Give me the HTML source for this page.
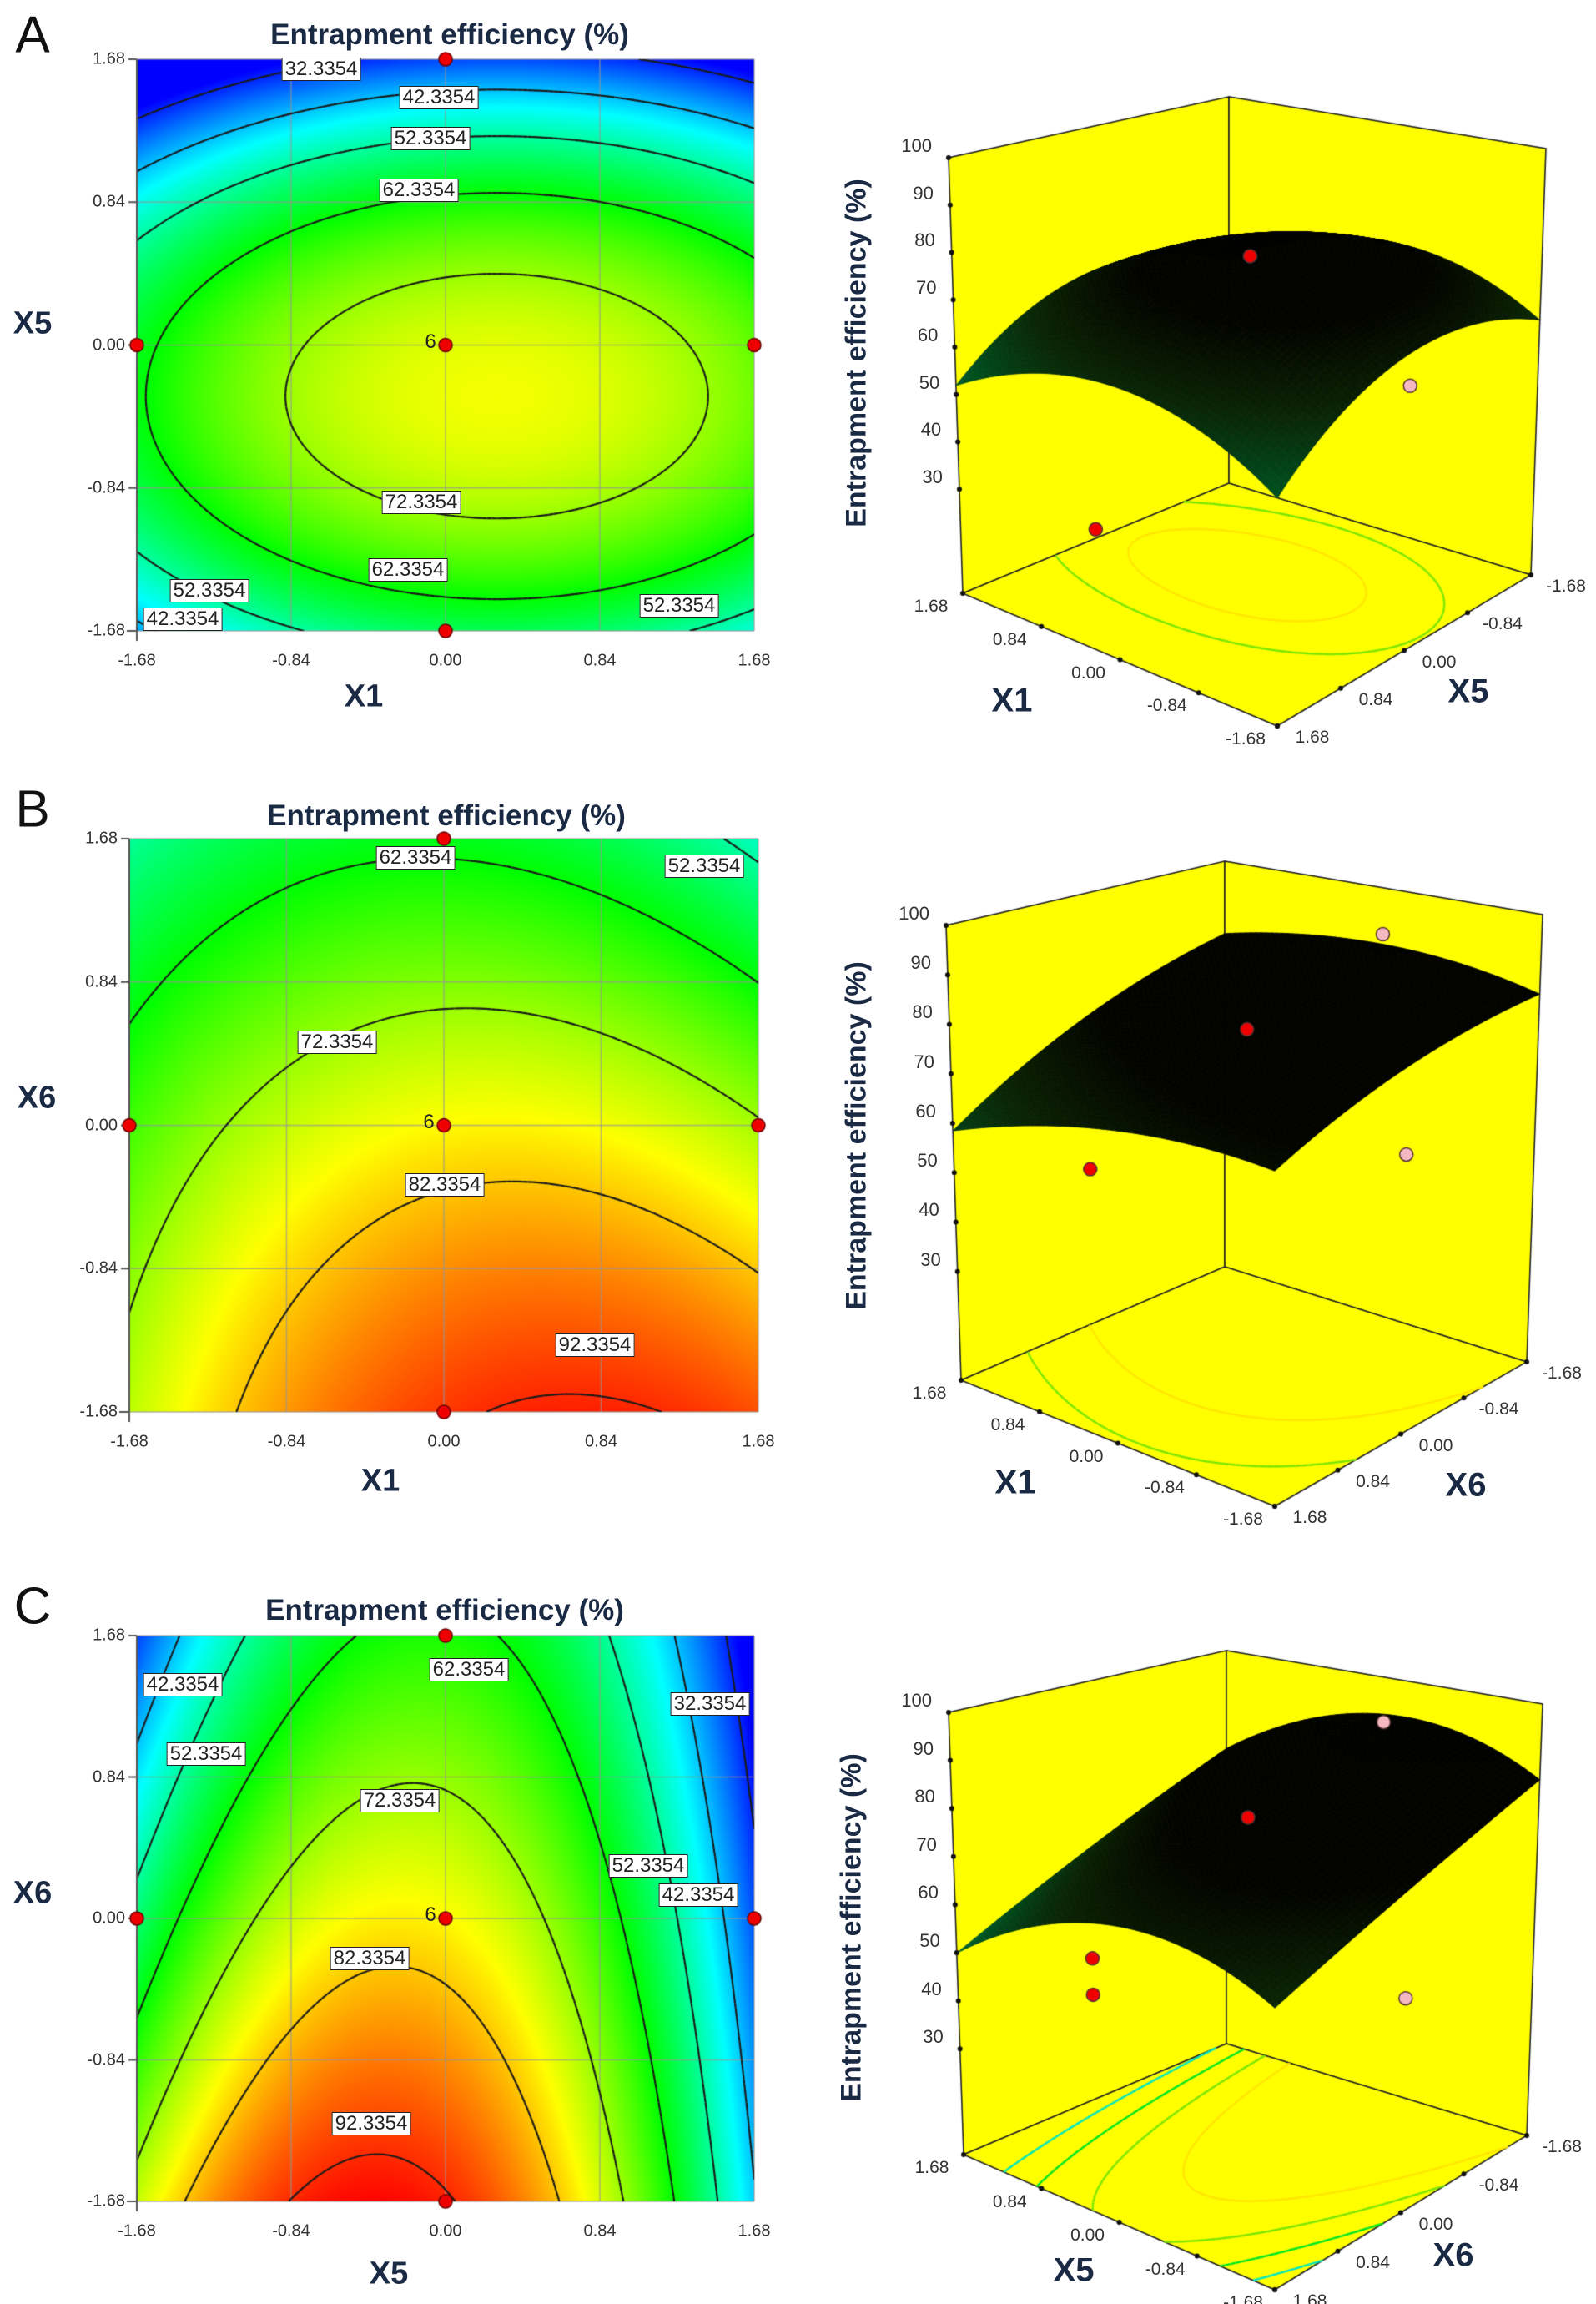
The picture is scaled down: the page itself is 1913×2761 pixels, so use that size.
<!DOCTYPE html>
<html><head><meta charset="utf-8">
<style>
body{margin:0;background:#fff;}
#wrap{position:relative;width:1913px;height:2761px;overflow:hidden;font-family:"Liberation Sans",sans-serif;}
canvas{position:absolute;left:0;top:0;}
.t{position:absolute;white-space:nowrap;color:#333;}
.lab{position:absolute;white-space:nowrap;background:#fff;border:1.5px solid #222;font-size:24px;line-height:26px;padding:0 3px;color:#222;transform:translate(-50%,-50%);}
.ttl{font-weight:bold;color:#1b2a44;}
</style></head>
<body>
<div id="wrap">
<canvas id="cv" width="1913" height="2761"></canvas>
</div>
<script>
// ---- data ----
const panelLetters = ["A","B","C"];
const xFactorNames = ["X1","X1","X5"];
const yFactorNames = ["X5","X6","X6"];
// quadratic model coefficients (contour plots): b0, bx, by, bxx, byy, bxy
const coefA = [76.7, 2.4, -6.6, -4.3, -11, 0];
const coefB = [79, 1.9, -9.1, -3.3, -1, -1.6];
const coefC = [79, -6, -8.6, -12, -0.2, 2.14];
// quadratic model coefficients (3D surfaces)
const coef3A = [80, -0.6, -2.7, -4, -4, 0];
const coef3B = [81.6, -2.1, -5.4, -1.5, -1, -1.24];
const coef3C = [80, -3.1, -7, -4, 0, -0.65];
const contourLevels = [32.3354, 42.3354, 52.3354, 62.3354, 72.3354, 82.3354, 92.3354];
const axisTicks = [-1.68, -0.84, 0.00, 0.84, 1.68];
const tickLabels = ["-1.68", "-0.84", "0.00", "0.84", "1.68"];
const zTicks = [30, 40, 50, 60, 70, 80, 90, 100];
const designX = [0, 0, -1.68, 1.68, 0];
const designY = [1.68, -1.68, 0, 0, 0];
const labelsA = [["32.3354",385,83],["42.3354",526,117],["52.3354",516,166],["62.3354",502,228],["72.3354",505,602],["62.3354",489,683],["52.3354",251,708],["42.3354",219,742],["52.3354",814,726]];
const labelsB = [["62.3354",498,1028],["52.3354",844,1038],["72.3354",404,1249],["82.3354",533,1420],["92.3354",713,1612]];
const labelsC = [["42.3354",219,2019],["52.3354",247,2102],["62.3354",562,2001],["32.3354",851,2042],["72.3354",479,2158],["52.3354",777,2236],["42.3354",837,2271],["82.3354",443,2347],["92.3354",445,2545]];
const floorLevelsA = [62.3354, 72.3354];
const floorLevelsB = [62.3354, 72.3354];
const floorLevelsC = [42.3354, 52.3354, 62.3354, 72.3354];
const pts3A = [[0,0,81,"r"],[-0.3,-1.68,42,"p"],[1.68,0,10,"r"]];
const pts3B = [[0,0,80,"r"],[0,-1.68,90,"p"],[-0.3,-1.68,44,"p"],[1.68,0,41,"r"]];
const pts3C = [[0,0,80,"r"],[0,-1.68,90,"p"],[-0.3,-1.68,30,"p"],[1.68,0,39,"r"],[1.68,0,31,"r"]];

// ---- layout ----
const contourBoxes = [{l:164,t:71,r:904,b:756},{l:155,t:1005,r:909,b:1692},{l:164,t:1960,r:904,b:2638}];
const titlePos = [[539,42],[535,978],[533,1930]];
const letterPos = [[39,42],[39,970],[39,1925]];
const xTitlePos = [[436,835],[456,1775],[466,2725]];
const yTitlePos = [[39,388],[44,1316],[39,2269]];
const boxes3 = [
 {L:[1154,711],K:[1473,579],R:[1835,689],F:[1531,870],LT:[1137,189],KT:[1473,116],RT:[1853,178],zt:[1027,423],xt:[1213,840],yt:[1760,829]},
 {L:[1152,1654],K:[1468,1518],R:[1830,1632],F:[1528,1805],LT:[1134,1109],KT:[1468,1032],RT:[1849,1096],zt:[1027,1361],xt:[1217,1777],yt:[1757,1780]},
 {L:[1155,2582],K:[1470,2449],R:[1830,2559],F:[1528,2744],LT:[1137,2052],KT:[1470,1978],RT:[1849,2042],zt:[1021,2310],xt:[1287,2721],yt:[1742,2703]}
];
const coefs=[coefA,coefB,coefC], coefs3=[coef3A,coef3B,coef3C], labelSets=[labelsA,labelsB,labelsC], floorSets=[floorLevelsA,floorLevelsB,floorLevelsC], ptSets=[pts3A,pts3B,pts3C];

const wrap=document.getElementById('wrap');
const cv=document.getElementById('cv');const ctx=cv.getContext('2d');
function model(c,x,y){return c[0]+c[1]*x+c[2]*y+c[3]*x*x+c[4]*y*y+c[5]*x*y;}
function pal(v){let t=Math.max(0,Math.min(1,(v-30)/65));
 const st=[[0,0,255],[0,255,255],[0,255,0],[255,255,0],[255,0,0]];
 let s=t*4,i=Math.min(3,Math.floor(s)),f=s-i;
 return st[i].map((a,k)=>Math.round(a+(st[i+1][k]-a)*f));}
function addText(txt,x,y,cls,style,name){const d=document.createElement('div');d.className=cls;d.textContent=txt;d.style.cssText=style+`left:${x}px;top:${y}px;`;
 
 
 wrap.appendChild(d);return d;}
function march(f,N,levels,draw){
 for(const lv of levels){
  for(let i=0;i<N;i++)for(let j=0;j<N;j++){
   const x0=-1.68+3.36*i/N,x1=-1.68+3.36*(i+1)/N,y0=-1.68+3.36*j/N,y1=-1.68+3.36*(j+1)/N;
   const c=[[x0,y0,f(x0,y0)],[x1,y0,f(x1,y0)],[x1,y1,f(x1,y1)],[x0,y1,f(x0,y1)]];
   const p=[];
   for(let e=0;e<4;e++){const a=c[e],b=c[(e+1)%4];
    if((a[2]-lv)*(b[2]-lv)<0){const u=(lv-a[2])/(b[2]-a[2]);p.push([a[0]+(b[0]-a[0])*u,a[1]+(b[1]-a[1])*u]);}}
   if(p.length>=2)draw(lv,p[0],p[1]);
   if(p.length==4)draw(lv,p[2],p[3]);
  }}
}
// ---- contour panels ----
contourBoxes.forEach((bx,pi)=>{
 const c=coefs[pi],w=bx.r-bx.l,h=bx.b-bx.t;
 const img=ctx.createImageData(w,h);
 for(let py=0;py<h;py++)for(let px=0;px<w;px++){
  const x=-1.68+3.36*px/w,y=1.68-3.36*py/h;const col=pal(model(c,x,y));const o=(py*w+px)*4;
  img.data[o]=col[0];img.data[o+1]=col[1];img.data[o+2]=col[2];img.data[o+3]=255;}
 ctx.putImageData(img,bx.l,bx.t);
 const sx=v=>bx.l+(v+1.68)/3.36*w, sy=v=>bx.b-(v+1.68)/3.36*h;
 ctx.strokeStyle='rgba(150,150,150,0.7)';ctx.lineWidth=1.5;
 axisTicks.forEach(v=>{ctx.beginPath();ctx.moveTo(sx(v),bx.t);ctx.lineTo(sx(v),bx.b);ctx.stroke();
  ctx.beginPath();ctx.moveTo(bx.l,sy(v));ctx.lineTo(bx.r,sy(v));ctx.stroke();});
 ctx.save();ctx.beginPath();ctx.rect(bx.l,bx.t,w,h);ctx.clip();
 ctx.strokeStyle='#1a1a1a';ctx.lineWidth=2.2;
 march((x,y)=>model(c,x,y),120,contourLevels,(lv,a,b)=>{ctx.beginPath();ctx.moveTo(sx(a[0]),sy(a[1]));ctx.lineTo(sx(b[0]),sy(b[1]));ctx.stroke();});
 ctx.restore();
 ctx.strokeStyle='#555';ctx.lineWidth=2;
 ctx.beginPath();ctx.moveTo(bx.l,bx.t);ctx.lineTo(bx.l,bx.b+12);ctx.moveTo(bx.l-12,bx.b);ctx.lineTo(bx.l,bx.b);ctx.stroke();
 axisTicks.forEach((v,k)=>{ctx.beginPath();ctx.moveTo(bx.l-10,sy(v));ctx.lineTo(bx.l,sy(v));ctx.stroke();
  addText(tickLabels[k],bx.l-14,sy(v),'t','font-size:20px;transform:translate(-100%,-50%);','y-tick-label');
  addText(tickLabels[k],sx(v),bx.b+36,'t','font-size:20px;transform:translate(-50%,-50%);','x-tick-label');});
 for(let k=0;k<designX.length;k++){ctx.beginPath();ctx.arc(sx(designX[k]),sy(designY[k]),8,0,7);ctx.fillStyle='#e00';ctx.fill();ctx.strokeStyle='#600';ctx.lineWidth=1.5;ctx.stroke();}
 addText('6',sx(0)-18,sy(0)-4,'t','font-size:24px;color:#222;transform:translate(-50%,-50%);','center-point-count');
 labelSets[pi].forEach(L=>{addText(L[0],L[1],L[2],'lab','','contour-label');});
 addText('Entrapment efficiency (%)',titlePos[pi][0],titlePos[pi][1],'t ttl','font-size:35px;transform:translate(-50%,-50%);','contour-title');
 addText(panelLetters[pi],letterPos[pi][0],letterPos[pi][1],'t','font-size:62px;color:#111;transform:translate(-50%,-50%);','panel-letter');
 addText(xFactorNames[pi],xTitlePos[pi][0],xTitlePos[pi][1],'t ttl','font-size:38px;transform:translate(-50%,-50%);','x-axis-title');
 addText(yFactorNames[pi],yTitlePos[pi][0],yTitlePos[pi][1],'t ttl','font-size:38px;transform:translate(-50%,-50%);','y-axis-title');
});
// ---- 3D panels ----
const ZF=8,ZT=100;
boxes3.forEach((B,pi)=>{
 const c=coefs[pi], c3=coefs3[pi];
 const VL=[B.LT[0]-B.L[0],B.LT[1]-B.L[1]],VK=[B.KT[0]-B.K[0],B.KT[1]-B.K[1]],VR=[B.RT[0]-B.R[0],B.RT[1]-B.R[1]];
 const VF=[0,(VL[1]+VR[1])/2*1.06];
 function bil(P,Q,R,S,s,t,k){return (1-s)*(1-t)*P[k]+s*(1-t)*Q[k]+s*t*R[k]+(1-s)*t*S[k];}
 function proj(a,b,z){const s=(1.68-a)/3.36,t=(1.68-b)/3.36;const f=(z-ZF)/(ZT-ZF);
  return [bil(B.L,B.F,B.R,B.K,s,t,0)+f*bil(VL,VF,VR,VK,s,t,0), bil(B.L,B.F,B.R,B.K,s,t,1)+f*bil(VL,VF,VR,VK,s,t,1)];}
 function poly(pts,fill){ctx.beginPath();pts.forEach((p,i)=>i?ctx.lineTo(p[0],p[1]):ctx.moveTo(p[0],p[1]));ctx.closePath();ctx.fillStyle=fill;ctx.fill();ctx.strokeStyle='#222';ctx.lineWidth=1.6;ctx.stroke();}
 poly([B.L,B.K,B.KT,B.LT],'#ffff00');
 poly([B.K,B.R,B.RT,B.KT],'#ffff00');
 poly([B.L,B.F,B.R,B.K],'#ffff00');
 ctx.lineWidth=2.5;
 march((x,y)=>model(c,x,y),80,floorSets[pi],(lv,a,b)=>{const col=pal(lv+8);ctx.strokeStyle=`rgb(${col[0]},${Math.min(230,col[1])},${col[2]})`;
  const p=proj(a[0],a[1],ZF),q=proj(b[0],b[1],ZF);ctx.beginPath();ctx.moveTo(p[0],p[1]);ctx.lineTo(q[0],q[1]);ctx.stroke();});
 const N=60,quads=[];
 for(let i=0;i<N;i++)for(let j=0;j<N;j++){
  const a0=-1.68+3.36*i/N,a1=-1.68+3.36*(i+1)/N,b0=-1.68+3.36*j/N,b1=-1.68+3.36*(j+1)/N;
  const zz=[[a0,b0],[a1,b0],[a1,b1],[a0,b1]].map(p=>[p[0],p[1],Math.max(ZF,model(c3,p[0],p[1]))]);
  const am=(a0+a1)/2,bm=(b0+b1)/2;const depth=(am+1.68)+(1.68-bm);
  quads.push({zz,depth,zm:(zz[0][2]+zz[2][2])/2});}
 quads.sort((p,q)=>q.depth-p.depth);
 const sc=[[30,[0,160,130]],[45,[0,125,75]],[55,[0,78,32]],[65,[10,35,6]],[75,[3,3,0]],[100,[0,0,0]]];
 function scol(z){for(let k=0;k<sc.length-1;k++){if(z<=sc[k+1][0]){const f=Math.max(0,(z-sc[k][0])/(sc[k+1][0]-sc[k][0]));return sc[k][1].map((v,m)=>Math.round(v+(sc[k+1][1][m]-v)*f));}}return [0,0,0];}
 quads.forEach(q=>{const col=scol(q.zm);const s=`rgb(${col[0]},${col[1]},${col[2]})`;
  ctx.beginPath();q.zz.forEach((p,i)=>{const r=proj(p[0],p[1],p[2]);i?ctx.lineTo(r[0],r[1]):ctx.moveTo(r[0],r[1]);});ctx.closePath();
  ctx.fillStyle=s;ctx.fill();ctx.strokeStyle=s;ctx.lineWidth=0.8;ctx.stroke();});
 ptSets[pi].forEach(p=>{const r=proj(p[0],p[1],p[2]);ctx.beginPath();ctx.arc(r[0],r[1],8,0,7);ctx.fillStyle=p[3]=='r'?'#e00':'#f4b8c0';ctx.fill();ctx.strokeStyle='#533';ctx.lineWidth=1.5;ctx.stroke();});
 ctx.fillStyle='#111';
 zTicks.forEach(z=>{const r=proj(1.68,1.68,z);ctx.beginPath();ctx.arc(r[0],r[1],3,0,7);ctx.fill();
  addText(String(z),r[0]-20,r[1]-14,'t','font-size:22px;transform:translate(-100%,-50%);','z-tick-label');});
 axisTicks.forEach((v,k)=>{
  const p=proj(v,1.68,ZF);ctx.beginPath();ctx.arc(p[0],p[1],3,0,7);ctx.fill();
  addText(tickLabels[k],p[0]-38,p[1]+16,'t','font-size:21px;transform:translate(-50%,-50%);','x-floor-tick-label');
  const q=proj(-1.68,v,ZF);ctx.beginPath();ctx.arc(q[0],q[1],3,0,7);ctx.fill();
  addText(tickLabels[k],q[0]+42,q[1]+14,'t','font-size:21px;transform:translate(-50%,-50%);','y-floor-tick-label');});
 addText('Entrapment efficiency (%)',B.zt[0],B.zt[1],'t ttl','font-size:34px;transform:translate(-50%,-50%) rotate(-90deg);','z-axis-title');
 addText(xFactorNames[pi],B.xt[0],B.xt[1],'t ttl','font-size:40px;transform:translate(-50%,-50%);','x-axis-title-3d');
 addText(yFactorNames[pi],B.yt[0],B.yt[1],'t ttl','font-size:40px;transform:translate(-50%,-50%);','y-axis-title-3d');
});
</script>
</body></html>
